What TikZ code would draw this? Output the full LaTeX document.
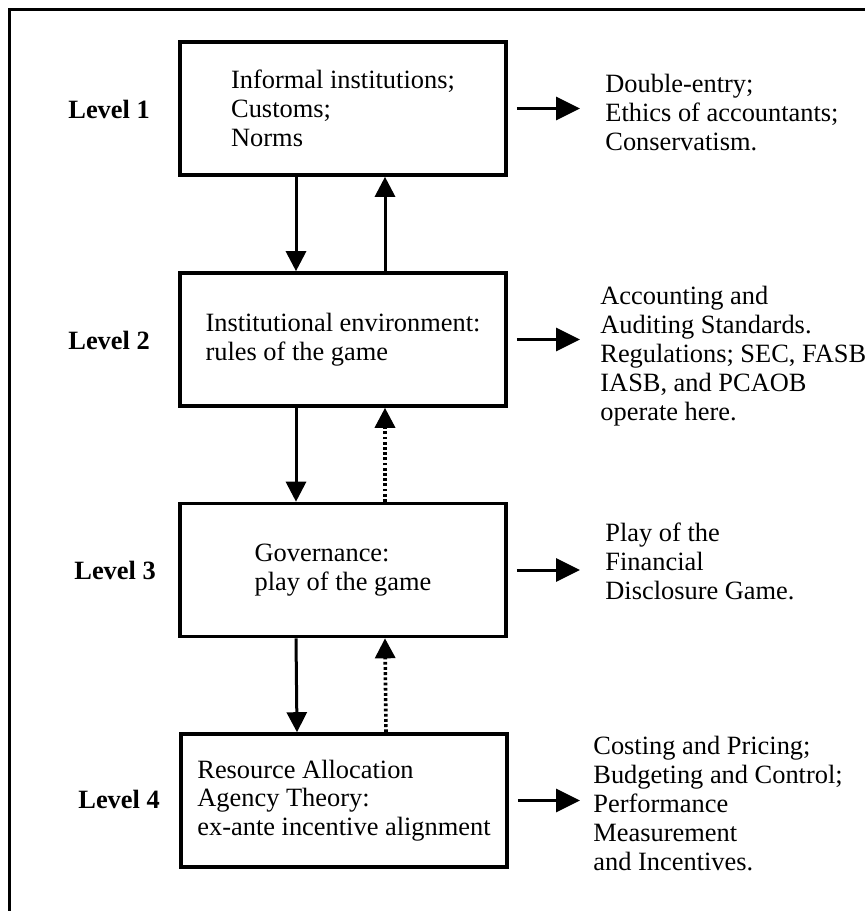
\documentclass[tikz,border=0pt]{standalone}
\usepackage{fontspec}
\setmainfont{Liberation Serif}
\usetikzlibrary{arrows.meta}
\newcommand{\diagfont}{\fontsize{13.2}{14.4}\selectfont}
\tikzstyle{layer}=[
	rectangle,
	draw,
	line width=1.8pt,
	minimum width=163pt,
	minimum height=66.5pt,
	align=left,
	inner sep=0pt
]
\tikzstyle{tag}=[
	font=\diagfont\bfseries,
	anchor=base west,
	inner sep=0pt
]
\tikzstyle{outcome}=[
	align=left,
	anchor=base west,
	inner sep=0pt
]
\tikzstyle{flow}=[
	-{Triangle[width=10pt,length=10pt]},
	line width=1.5pt
]
\tikzstyle{feedback}=[
	flow,
	dash pattern=on 1.4pt off 1.2pt,
	line width=1.8pt
]
\tikzstyle{effect}=[
	-{Triangle[width=11.5pt,length=12pt]},
	line width=1.5pt,
	shorten <=4.5pt
]

\begin{document}
\begin{tikzpicture}[x=0.5pt,y=-0.5pt,font=\diagfont]
\useasboundingbox (0,0) rectangle (865,911);
\draw[line width=1.5pt] (9,9) rectangle (900,960);
% the four levels
\node [layer] (b1) at (343,108.5) {Informal institutions;\\Customs;\\Norms};
\node [layer] (b2) at (343,339.5) {Institutional environment:\\rules of the game};
\node [layer] (b3) at (343,570) {Governance:\\play of the game};
\node [layer] (b4) at (344,800.5) {Resource Allocation\\Agency Theory:\\ex-ante incentive alignment};
\node [tag] (l1) at (68,118) {Level 1};
\node [tag] (l2) at (68,349) {Level 2};
\node [tag] (l3) at (74,579) {Level 3};
\node [tag] (l4) at (78,808) {Level 4};
% what happens at each level (base = last line)
\node [outcome] (r1) at (605,150) {Double-entry;\\Ethics of accountants;\\Conservatism.};
\node [outcome] (r2) at (600,420) {Accounting and\\Auditing Standards.\\Regulations; SEC, FASB\\IASB, and PCAOB\\operate here.};
\node [outcome] (r3) at (605,599) {Play of the\\Financial\\Disclosure Game.};
\node [outcome] (r4) at (593,870) {Costing and Pricing;\\Budgeting and Control;\\Performance\\Measurement\\and Incentives.};
\coordinate (tips) at (580,0);
\draw [flow] ([xshift=-23.5pt]b1.south) -- ([xshift=-23.5pt]b2.north);
\draw [flow] ([xshift=21pt]b2.north) -- ([xshift=21pt]b1.south);
\draw [flow] ([xshift=-23.5pt]b2.south) -- ([xshift=-23.5pt]b3.north);
\draw [feedback] ([xshift=21pt]b3.north) -- ([xshift=21pt]b2.south);
\draw [flow] ([xshift=-23.5pt]b3.south) -- ([xshift=-23.5pt]b4.north);
\draw [feedback] ([xshift=21pt]b4.north) -- ([xshift=21pt]b3.south);
\draw [effect] (b1.east) -- (b1.east -| tips);
\draw [effect] (b2.east) -- (b2.east -| tips);
\draw [effect] (b3.east) -- (b3.east -| tips);
\draw [effect] (b4.east) -- (b4.east -| tips);
\end{tikzpicture}
\end{document}
